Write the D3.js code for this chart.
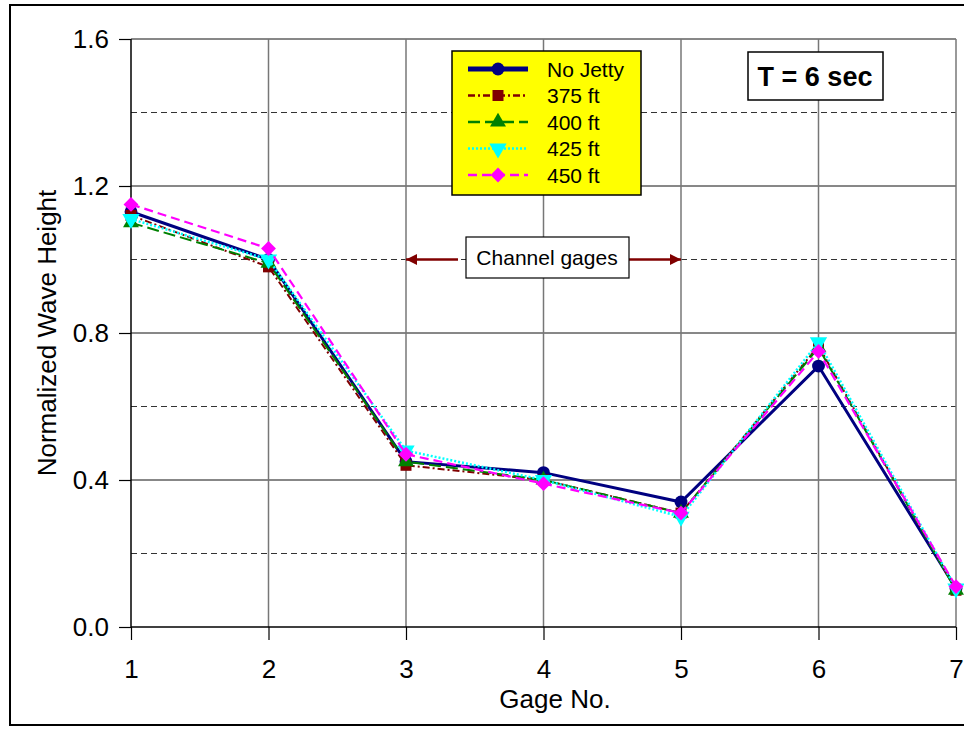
<!DOCTYPE html>
<html>
<head>
<meta charset="utf-8">
<script src="https://cdn.jsdelivr.net/npm/d3@7"></script>
<style>
  body { margin: 0; background: #fff; }
  svg { font-family: "Liberation Sans", Arial, sans-serif; }
</style>
</head>
<body>
<div id="chart"></div>
<script>
const gages = [1, 2, 3, 4, 5, 6, 7];
const yTicks = [0, 0.4, 0.8, 1.2, 1.6];
const yMinor = [0.2, 0.6, 1.0, 1.4];

const seriesNames = ["No Jetty", "375 ft", "400 ft", "425 ft", "450 ft"];
const noJetty = [1.13, 1.0, 0.45, 0.42, 0.34, 0.71, 0.105];
const ft375 = [1.12, 0.98, 0.44, 0.40, 0.31, 0.765, 0.10];
const ft400 = [1.10, 0.99, 0.45, 0.40, 0.31, 0.76, 0.10];
const ft425 = [1.11, 1.0, 0.48, 0.40, 0.30, 0.775, 0.105];
const ft450 = [1.15, 1.03, 0.47, 0.39, 0.31, 0.75, 0.11];

const svgWidth = 964;
const svgHeight = 734;
const margin = { top: 39, right: 8, bottom: 107, left: 131 };

const svg = d3.select("#chart")
  .append("svg")
  .attr("width", svgWidth)
  .attr("height", svgHeight);

// outer frame (cut off on the right like the original)
svg.append("rect")
  .attr("x", 10).attr("y", 5)
  .attr("width", 980).attr("height", 720)
  .attr("fill", "none").attr("stroke", "#000").attr("stroke-width", 2);

const xScale = d3.scaleLinear()
  .domain([1, 7])
  .range([margin.left, svgWidth - margin.right]);

const yScale = d3.scaleLinear()
  .domain([0, 1.6])
  .range([svgHeight - margin.bottom, margin.top]);

const grid = svg.append("g").attr("class", "grid");

// dashed minor gridlines
grid.selectAll(".minor")
  .data(yMinor)
  .enter()
  .append("line")
  .attr("x1", xScale(1)).attr("x2", xScale(7))
  .attr("y1", (d) => yScale(d)).attr("y2", (d) => yScale(d))
  .attr("stroke", "#333").attr("stroke-width", 1)
  .attr("stroke-dasharray", "6,4");

// solid major horizontal gridlines
grid.selectAll(".major")
  .data(yTicks.slice(1))
  .enter()
  .append("line")
  .attr("x1", xScale(1)).attr("x2", xScale(7))
  .attr("y1", (d) => yScale(d)).attr("y2", (d) => yScale(d))
  .attr("stroke", "#111").attr("stroke-width", 1);

// vertical gridlines
grid.selectAll(".vert")
  .data(gages.slice(1))
  .enter()
  .append("line")
  .attr("x1", (d) => xScale(d)).attr("x2", (d) => xScale(d))
  .attr("y1", yScale(0)).attr("y2", yScale(1.6))
  .attr("stroke", "#777").attr("stroke-width", 1.5);

// axes
const yAxis = svg.append("g")
  .attr("transform", `translate(${margin.left},0)`)
  .call(d3.axisLeft(yScale).tickValues(yTicks).tickFormat(d3.format(".1f")).tickSize(12).tickPadding(10));

const xAxis = svg.append("g")
  .attr("transform", `translate(0,${yScale(0)})`)
  .call(d3.axisBottom(xScale).tickValues(gages).tickFormat(d3.format("d")).tickSize(13).tickPadding(20));

[yAxis, xAxis].forEach((ax) => {
  ax.select(".domain").remove();
  ax.selectAll("line").attr("stroke", "#000").attr("stroke-width", 1.2);
  ax.selectAll("text").attr("font-size", 26).attr("fill", "#000")
    .attr("font-family", "'Liberation Sans', Arial, sans-serif");
});

svg.append("line")
  .attr("x1", margin.left).attr("x2", margin.left)
  .attr("y1", yScale(0)).attr("y2", yScale(1.6))
  .attr("stroke", "#000").attr("stroke-width", 1.5);
svg.append("line")
  .attr("x1", margin.left).attr("x2", xScale(7))
  .attr("y1", yScale(0)).attr("y2", yScale(0))
  .attr("stroke", "#000").attr("stroke-width", 1.5);

// axis titles
svg.append("text")
  .attr("transform", `translate(56,${(yScale(0) + yScale(1.6)) / 2}) rotate(-90)`)
  .attr("text-anchor", "middle")
  .attr("font-size", 26)
  .text("Normalized Wave Height");

svg.append("text")
  .attr("x", 555).attr("y", 708)
  .attr("text-anchor", "middle")
  .attr("font-size", 26)
  .text("Gage No.");

// series
const seriesValues = [noJetty, ft375, ft400, ft425, ft450];
const colors = ["#000080", "#800000", "#008000", "#00FFFF", "#FF00FF"];
const dashes = [null, "7,3,2,3", "12,5", "2,2", "9,5"];
const widths = [3, 2, 2, 2.5, 2.2];
// diamond = rotated square
const symbols = [d3.symbolCircle, d3.symbolSquare, d3.symbolTriangle, d3.symbolTriangle, d3.symbolSquare];
const symSizes = [130, 121, 110, 130, 110];
const symRotate = [0, 0, 0, 180, 45];

const line = d3.line()
  .x((d, i) => xScale(gages[i]))
  .y((d) => yScale(d));

const seriesLayer = svg.append("g").attr("class", "series");

seriesValues.forEach((vals, s) => {
  const g = seriesLayer.append("g");
  g.append("path")
    .datum(vals)
    .attr("d", line)
    .attr("fill", "none")
    .attr("stroke", colors[s])
    .attr("stroke-width", widths[s])
    .attr("stroke-dasharray", dashes[s]);

  g.selectAll("path.pt")
    .data(vals)
    .enter()
    .append("path")
    .attr("class", "pt")
    .attr("d", d3.symbol().type(symbols[s]).size(symSizes[s]))
    .attr("transform", (d, i) => `translate(${xScale(gages[i])},${yScale(d)}) rotate(${symRotate[s]})`)
    .attr("fill", colors[s]);
});

// legend
const legend = svg.append("g").attr("transform", "translate(452,51)");
legend.append("rect")
  .attr("width", 189).attr("height", 144)
  .attr("fill", "#FFFF00").attr("stroke", "#000").attr("stroke-width", 1.5);

seriesNames.forEach((name, s) => {
  const row = legend.append("g").attr("transform", `translate(0,${18 + s * 26.5})`);
  row.append("line")
    .attr("x1", 16).attr("x2", 76)
    .attr("stroke", colors[s])
    .attr("stroke-width", s === 0 ? 5 : 2.5)
    .attr("stroke-dasharray", dashes[s]);
  row.append("path")
    .attr("d", d3.symbol().type(symbols[s]).size(symSizes[s]))
    .attr("transform", `translate(46,0) rotate(${symRotate[s]})`)
    .attr("fill", colors[s]);
  row.append("text")
    .attr("x", 95).attr("y", 7.5)
    .attr("font-size", 21)
    .text(name);
});

// T = 6 sec box
const tBox = svg.append("g");
tBox.append("rect")
  .attr("x", 748).attr("y", 52).attr("width", 135).attr("height", 48)
  .attr("fill", "#fff").attr("stroke", "#000").attr("stroke-width", 1.5);
tBox.append("text")
  .attr("x", 815).attr("y", 86)
  .attr("text-anchor", "middle")
  .attr("font-size", 27).attr("font-weight", "bold")
  .text("T = 6 sec");

// channel gages annotation
svg.append("defs").append("marker")
  .attr("id", "arrow")
  .attr("viewBox", "0 0 10 10")
  .attr("refX", 10).attr("refY", 5)
  .attr("markerWidth", 26).attr("markerHeight", 11)
  .attr("markerUnits", "userSpaceOnUse")
  .attr("orient", "auto")
  .append("path")
  .attr("d", "M0,0 L10,5 L0,10 Z")
  .attr("fill", "#800000");

const yAnn = yScale(1.0);
svg.append("line")
  .attr("x1", 458).attr("x2", xScale(3))
  .attr("y1", yAnn).attr("y2", yAnn)
  .attr("stroke", "#800000").attr("stroke-width", 2.5)
  .attr("marker-end", "url(#arrow)");
svg.append("line")
  .attr("x1", 627).attr("x2", xScale(5))
  .attr("y1", yAnn).attr("y2", yAnn)
  .attr("stroke", "#800000").attr("stroke-width", 2.5)
  .attr("marker-end", "url(#arrow)");

svg.append("rect")
  .attr("x", 466).attr("y", 237).attr("width", 163).attr("height", 41)
  .attr("fill", "#fff").attr("stroke", "#000").attr("stroke-width", 1.2);
svg.append("text")
  .attr("x", 547).attr("y", 265)
  .attr("text-anchor", "middle")
  .attr("font-size", 21)
  .text("Channel gages");
</script>
</body>
</html>
